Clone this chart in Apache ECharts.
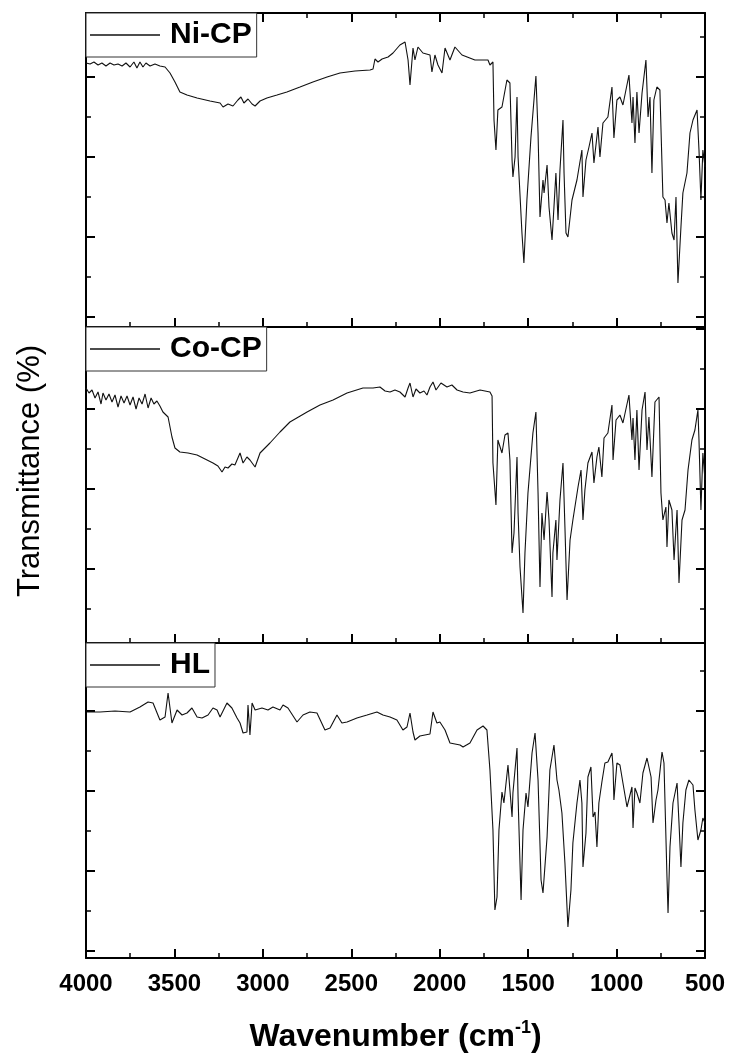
<!DOCTYPE html>
<html>
<head>
<meta charset="utf-8">
<script src="https://cdn.jsdelivr.net/npm/echarts@6/dist/echarts.min.js"></script>
<style>
html,body{margin:0;padding:0;background:#fff;}
#chart{width:731px;height:1059px;}
</style>
</head>
<body>
<div id="chart"></div>
<script>
// ---------- data ----------
const seriesNames = ['Ni-CP', 'Co-CP', 'HL'];
const xAxisTitle = 'Wavenumber (cm';
const xAxisTitleSup = '-1';
const yAxisTitle = 'Transmittance (%)';
const xRange = [500, 4000];
const xStep = 500;

const niWavenumber = [4000,3977,3955,3932,3910,3887,3864,3842,3819,3796,3774,3751,3729,3712,3695,3678,3661,3638,3610,3582,3553,3525,3497,3469,3429,3372,3299,3242,3225,3197,3169,3141,3124,3107,3084,3061,3044,3016,2977,2920,2864,2790,2717,2637,2564,2479,2394,2377,2366,2349,2326,2292,2264,2225,2196,2179,2168,2151,2140,2123,2095,2055,2044,2027,2010,1987,1970,1942,1914,1874,1801,1727,1716,1699,1693,1682,1671,1648,1620,1603,1591,1586,1574,1563,1557,1535,1524,1507,1484,1456,1444,1433,1416,1410,1393,1382,1365,1354,1343,1331,1320,1303,1297,1286,1275,1252,1224,1196,1190,1173,1156,1139,1128,1105,1094,1077,1049,1026,1015,998,981,964,930,913,907,896,885,873,856,834,822,811,800,789,772,755,738,726,715,704,687,675,664,653,636,625,602,585,568,545,534,523,512,500];
const niTransmittance = [63.5,63.25,63.75,63,63.5,62.75,63.5,63,63.25,62.75,63.5,62.5,63.75,62.25,63.75,62.5,63.5,62.75,63.25,62.75,62.5,61,58.75,56.25,55.5,54.75,54,53.5,52.5,53.25,52.75,54.25,55,53.5,54.5,53.25,52.75,54,54.75,55.5,56.25,57.5,58.75,60,61,61.5,61.75,62,64.5,63.75,64.5,65,66,68,68.75,64.25,58,67.25,64.25,67.5,66,65.5,61.25,65.5,63,61,67.25,64.25,67.5,65.5,64.25,64.25,63,63.75,49.25,41.75,51.75,52.5,59.25,58.5,39.25,35,40,55,40,21,13.5,29.25,45,60.25,46,25,34.25,31,38,27.5,19.25,27.5,36,24.25,36.75,49.25,36,21,20,29.25,34.25,41.75,30,39.25,42.5,46,38.5,47.5,40,48.5,50,57.5,44.75,54.25,55,53,60.5,48.5,55,43.5,56.25,46,56,64.25,50,55,36,54.25,57.5,56.75,30,29.25,23.5,28.5,21,19.25,30,8.5,22.5,31,36,46,49.25,51.75,41.75,29.25,41.75,37.5];

const coWavenumber = [4000,3983,3966,3949,3932,3915,3904,3887,3870,3853,3836,3819,3802,3785,3768,3751,3734,3717,3700,3683,3666,3649,3632,3616,3599,3582,3565,3536,3514,3497,3469,3423,3372,3327,3282,3254,3231,3214,3197,3175,3158,3129,3112,3090,3073,3044,3016,2960,2903,2847,2750,2677,2603,2524,2434,2377,2338,2309,2281,2253,2225,2196,2179,2168,2151,2134,2112,2089,2072,2055,2038,2021,2010,1993,1982,1959,1931,1902,1868,1829,1772,1744,1716,1704,1699,1682,1671,1648,1631,1614,1603,1591,1580,1563,1557,1546,1529,1518,1501,1473,1456,1444,1433,1422,1410,1393,1382,1365,1360,1343,1337,1320,1303,1292,1280,1263,1247,1218,1201,1190,1179,1162,1139,1128,1111,1100,1083,1071,1049,1026,1020,1003,981,964,930,913,907,896,885,873,856,839,828,817,800,783,760,749,738,721,715,704,687,675,658,647,630,613,596,574,557,540,534,523,512,500];
const coTransmittance = [65.25,64,64.75,62.75,64.25,61.25,64,62.25,63.75,61.75,63.5,60.5,63.25,61.5,63.25,61,63,60,62.75,61.25,63.75,60.25,62.75,61.25,62,60.75,59.25,58,53,50.25,49.25,49,48.5,47.5,46.5,45.75,44.25,45.5,45.25,46.25,46,49,46.5,48,47.25,45.5,49,51.5,54.25,56.75,59.25,61,62.25,64,65.25,65.25,65.5,64.5,64.25,64.75,64.25,63,65.25,66.5,63,65,64,64.5,63.5,65.5,66.75,64.75,64.75,66.5,66.75,65.5,66,64.75,64.25,64,64.75,64.5,64.25,63.25,46.5,36,52.25,49,53.5,54,47.25,24,29,48,34,20.5,9,24,39,54,59.25,39,15.5,34,27.25,39.25,32.25,13,24,32.25,22.25,37.25,46.5,30.5,12.25,27.25,32.25,40.5,44.75,32.25,39.75,46.5,49.25,41.5,48,50.5,43,52.75,54,61,47.25,57.25,58.5,56.5,63.5,52.25,57.75,47.25,59.75,44.75,59.75,64.25,49.75,58,43,61.75,63,39,32.25,35.5,25.5,37.25,34.75,22.25,34.75,16.5,32.25,34.75,44.75,52.25,54.75,59.75,52.25,34.75,49,42.25];

const hlWavenumber = [3994,3921,3836,3751,3695,3649,3621,3582,3553,3536,3514,3485,3457,3429,3401,3372,3344,3310,3282,3259,3242,3203,3175,3146,3129,3112,3090,3084,3073,3061,3044,3005,2971,2943,2903,2886,2858,2807,2773,2734,2694,2649,2620,2581,2553,2524,2468,2411,2355,2321,2281,2242,2208,2185,2168,2151,2140,2112,2055,2038,2016,1999,1970,1942,1885,1868,1829,1789,1755,1733,1716,1699,1688,1676,1665,1648,1637,1614,1603,1591,1586,1563,1557,1540,1529,1512,1501,1478,1461,1444,1427,1416,1393,1377,1354,1337,1326,1309,1292,1275,1258,1247,1224,1207,1196,1190,1173,1162,1145,1133,1122,1111,1100,1083,1066,1049,1026,1020,1015,998,981,964,941,930,913,907,896,885,868,851,828,817,805,794,777,766,743,732,715,709,698,681,658,647,636,625,608,591,568,557,540,523,512,500];
const hlTransmittance = [59.75,59.75,60,59.75,61,62.25,62,57.75,58.5,64.5,57,60.25,59,59.5,60.75,58.5,58.25,59,60.75,60.25,58.5,62,60.75,58.25,57,54.5,54.75,61.5,54,62,60.25,60.75,60.25,61,60.25,61.5,60.75,57.25,59,59.75,59.5,55.25,55.75,59,57,57.25,58.25,59,59.75,59,58.5,57.75,55.25,56,59.5,54.75,52.75,53.75,54.25,59.75,57,57.25,55.25,52,51.5,51,52,55.25,56.25,55.25,45.25,30.25,10.25,13.5,30.25,39.75,37,46.5,40.25,33.5,39.5,50.75,38.5,12.75,30.25,39.5,36,49.5,54.5,42.75,17.75,14.5,28.5,45.25,51.5,42.75,40.25,34.5,22,6,15.25,27,37,42.75,37,21,29.5,43.5,46,33.5,34.75,26,37,42.25,47,47.25,49.5,46,37.75,47,46.5,42,36,35.75,41,30.75,40.75,39.5,37,44.5,48.25,48.5,43.5,32,37.75,40.25,49.75,47,18.5,9.5,26,37,42,32,21,32,40.25,42.75,41.5,35.25,27.75,30.25,33.25,32];

// per-panel y extents (arbitrary transmittance units, no labels shown)
const panelYMin = [-2.5, 1.5, -1.75];
const panelYMax = [76, 80.5, 77];

// ---------- chart ----------
const FONT = '"Liberation Sans", Arial, Helvetica, sans-serif';
const INK = '#000';
const LINE = '#111';

const panelTop = [13, 327, 643];
const panelHeight = [314, 316, 315];

function pairs(xs, ys) { return xs.map((x, i) => [x, ys[i]]); }
const seriesData = [
  pairs(niWavenumber, niTransmittance),
  pairs(coWavenumber, coTransmittance),
  pairs(hlWavenumber, hlTransmittance)
];

function xAx(g, pos, labels) {
  const ax = {
    type: 'value', gridIndex: g, position: pos, inverse: true,
    min: xRange[0], max: xRange[1], interval: xStep,
    axisLine: { show: true, onZero: false, lineStyle: { color: INK, width: 2 } },
    axisTick: { show: true, inside: true, length: 9, lineStyle: { color: INK, width: 2 } },
    minorTick: { show: true, splitNumber: 2, length: 5, lineStyle: { color: INK, width: 1.5 } },
    splitLine: { show: false }, minorSplitLine: { show: false },
    axisLabel: {
      show: labels, margin: 14, fontSize: 24, fontWeight: 'bold', color: INK, fontFamily: FONT,
      showMinLabel: true, showMaxLabel: true, formatter: v => String(v)
    }
  };
  if (labels) {
    ax.name = '{a|' + xAxisTitle + '}{s|' + xAxisTitleSup + '}{a|)}';
    ax.nameLocation = 'middle';
    ax.nameGap = 61;
    ax.nameTextStyle = {
      rich: {
        a: { fontSize: 32, fontWeight: 'bold', fontFamily: FONT, color: INK, lineHeight: 36 },
        s: { fontSize: 18, fontWeight: 'bold', fontFamily: FONT, color: INK, lineHeight: 20, verticalAlign: 'top' }
      }
    };
  }
  return ax;
}

function yAx(g, pos) {
  return {
    type: 'value', gridIndex: g, position: pos,
    min: panelYMin[g], max: panelYMax[g], splitNumber: 4, minInterval: 20, maxInterval: 20,
    axisLine: { show: true, onZero: false, lineStyle: { color: INK, width: 2 } },
    axisTick: { show: true, inside: true, length: 9, lineStyle: { color: INK, width: 2 } },
    minorTick: { show: true, splitNumber: 2, length: 5, lineStyle: { color: INK, width: 1.5 } },
    splitLine: { show: false }, minorSplitLine: { show: false },
    axisLabel: { show: false }
  };
}

const option = {
  animation: false,
  backgroundColor: '#fff',
  grid: panelTop.map((t, i) => ({ left: 86, right: 26, top: t, height: panelHeight[i] })),
  xAxis: [xAx(0, 'bottom', false), xAx(0, 'top', false), xAx(1, 'bottom', false), xAx(2, 'bottom', true)],
  yAxis: [yAx(0, 'left'), yAx(0, 'right'), yAx(1, 'left'), yAx(1, 'right'), yAx(2, 'left'), yAx(2, 'right')],
  legend: seriesNames.map((n, i) => ({
    data: [n], left: 86, top: panelTop[i], orient: 'horizontal',
    icon: 'rect', itemWidth: 70, itemHeight: 1.5, itemGap: 0,
    padding: [5, 5, 5, 4], borderColor: '#333', borderWidth: 1, backgroundColor: '#fff',
    selectedMode: false,
    textStyle: { fontSize: 30, fontWeight: 'bold', color: INK, fontFamily: FONT, lineHeight: 34, padding: [0, 0, 0, 5] }
  })),
  graphic: [{
    type: 'text', x: 30, y: 471, rotation: Math.PI / 2,
    style: { text: yAxisTitle, fontSize: 31, fontFamily: FONT, fill: INK, align: 'center', verticalAlign: 'middle' }
  }],
  series: [
    { name: seriesNames[0], type: 'line', xAxisIndex: 0, yAxisIndex: 0, data: seriesData[0] },
    { name: seriesNames[1], type: 'line', xAxisIndex: 2, yAxisIndex: 2, data: seriesData[1] },
    { name: seriesNames[2], type: 'line', xAxisIndex: 3, yAxisIndex: 4, data: seriesData[2] }
  ].map(s => Object.assign(s, {
    showSymbol: false, symbol: 'none', color: LINE,
    lineStyle: { color: LINE, width: 1.1 }, itemStyle: { color: LINE }, z: 2
  }))
};

const chart = echarts.init(document.getElementById('chart'), null, { renderer: 'canvas' });
chart.setOption(option);
</script>
</body>
</html>
